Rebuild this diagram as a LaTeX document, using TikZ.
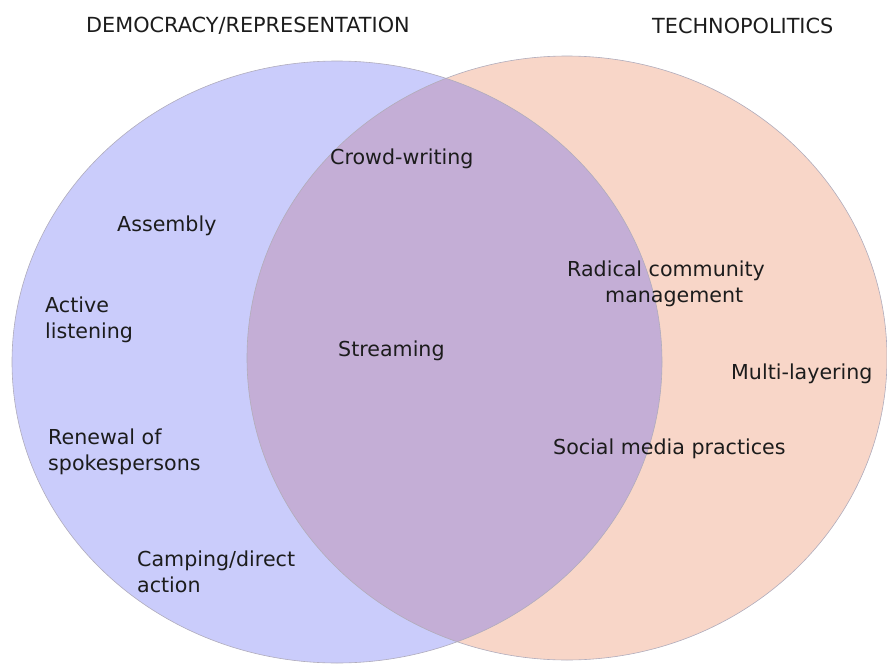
\documentclass[tikz,border=0pt]{standalone}
\usepackage{fontspec}
\setmainfont{DejaVu Sans}
\definecolor{demofill}{HTML}{CACCFB}
\definecolor{techfill}{HTML}{F8D6C8}
\definecolor{bothfill}{HTML}{C4AED6}
\definecolor{vennrule}{HTML}{B0ACBC}
\definecolor{vennink}{HTML}{1C1C1C}
\usetikzlibrary{positioning}
\tikzset{
  vennlabel/.style={font=\fontsize{20.6}{26}\selectfont, text=vennink, inner sep=0pt},
  venntitle/.style={font=\fontsize{20.8}{26}\selectfont, text=vennink, inner sep=0pt},
}
\begin{document}
\begin{tikzpicture}[x=1pt, y=-1pt]
  \useasboundingbox (0,0) rectangle (887,664);

  % the two sets
  \fill[demofill] (337,362) ellipse [x radius=325, y radius=301];
  \fill[techfill] (567,358) ellipse [x radius=320, y radius=302];
  \begin{scope}
    \clip (337,362) ellipse [x radius=325, y radius=301];
    \fill[bothfill] (567,358) ellipse [x radius=320, y radius=302];
  \end{scope}
  \draw[vennrule, line width=0.6pt] (337,362) ellipse [x radius=325, y radius=301];
  \draw[vennrule, line width=0.6pt] (567,358) ellipse [x radius=320, y radius=302];

  % set titles
  \node[venntitle, anchor=west] (demo) at (86,26) {DEMOCRACY/REPRESENTATION};
  \node[venntitle, anchor=west] (tech) at (652,26) {TECHNOPOLITICS};

  % democracy only
  \node[vennlabel, anchor=west] (assembly) at (117,226) {Assembly};
  \node[vennlabel, anchor=west, align=left] (listening) at (45,320) {Active\\listening};
  \node[vennlabel, anchor=west, align=left] (renewal) at (48,452) {Renewal of\\spokespersons};
  \node[vennlabel, anchor=west, align=left] (camping) at (137,572) {Camping/direct\\action};

  % both
  \node[vennlabel, anchor=west] (crowd) at (330,159) {Crowd-writing};
  \node[vennlabel, anchor=west] (streaming) at (338,351) {Streaming};

  % technopolitics only
  \node[vennlabel, anchor=west, align=left] (radical) at (567,284) {Radical community\\\hspace*{38pt}management};
  \node[vennlabel, anchor=west] (layering) at (731,374) {Multi-layering};
  \node[vennlabel, anchor=west] (social) at (553,449) {Social media practices};
\end{tikzpicture}
\end{document}
